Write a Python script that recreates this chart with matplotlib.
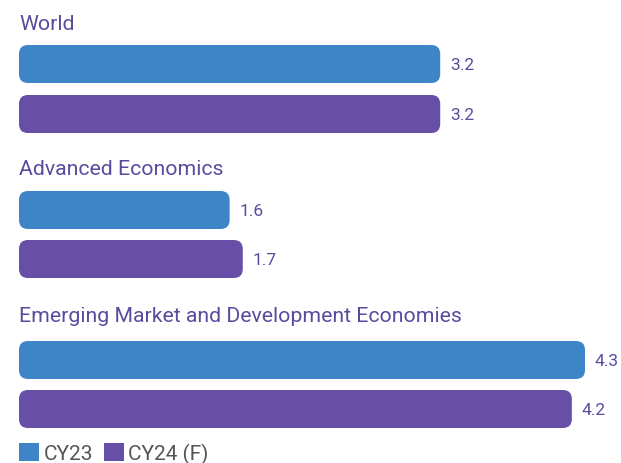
import matplotlib.pyplot as plt
from matplotlib.patches import FancyBboxPatch, Patch

plt.rcParams['font.family'] = ['Roboto', 'DejaVu Sans']

groups = ["World", "Advanced Economics", "Emerging Market and Development Economies"]
cy23 = [3.2, 1.6, 4.3]
cy24 = [3.2, 1.7, 4.2]
series_names = ["CY23", "CY24 (F)"]

BLUE = "#3d85c6"
PURPLE = "#674ea7"
TEXT = "#5b4a9e"

W, H = 621, 464
fig = plt.figure(figsize=(W / 100, H / 100), dpi=100)
ax = fig.add_axes([0, 0, 1, 1])

# x in data units: 0 at px 19, 4.3 at px 585
px_per_unit = (585 - 19) / 4.3
ax.set_xlim(-19 / px_per_unit, (W - 19) / px_per_unit)
ax.set_ylim(H, 0)  # y in pixel-like layout units
ax.axis("off")

bar_h = 38
title_y = [25, 170, 317]
bar_y = [(65, 115), (211, 260), (361, 410)]
radius = 9

for i, name in enumerate(groups):
    ax.text(0, title_y[i], name, color=TEXT, fontsize=15.3, va="center", ha="left")
    for vals, color, yc in ((cy23, BLUE, bar_y[i][0]), (cy24, PURPLE, bar_y[i][1])):
        bars = ax.barh([yc], [vals[i]], height=bar_h, color=color)
        for b in bars:
            b.set_visible(False)
            patch = FancyBboxPatch(
                (b.get_x(), b.get_y()), b.get_width(), b.get_height(),
                boxstyle=f"round,pad=0,rounding_size={radius / px_per_unit}",
                mutation_aspect=px_per_unit,
                facecolor=color, edgecolor="none")
            ax.add_patch(patch)
            ax.text(b.get_width() + 10 / px_per_unit, yc + 1, f"{vals[i]:.1f}",
                    color=TEXT, fontsize=12.5, va="center", ha="left")

handles = [Patch(facecolor=BLUE), Patch(facecolor=PURPLE)]
leg = fig.legend(handles, series_names, loc="lower left",
                 bbox_to_anchor=(11 / W, -9 / H), frameon=False, ncol=2,
                 fontsize=15, handlelength=0.95, handleheight=0.95,
                 handletextpad=0.2, columnspacing=0.55, borderaxespad=0)
for t in leg.get_texts():
    t.set_color("#555555")

fig.savefig("out.png", dpi=100)
